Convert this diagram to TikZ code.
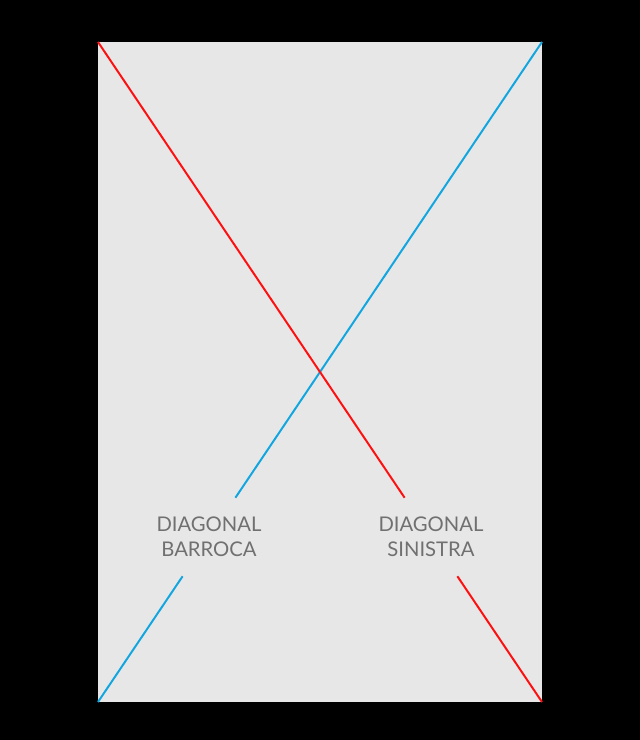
\documentclass[tikz,border=0pt]{standalone}
\usepackage{fontspec}
\setmainfont{Lato}
\usepackage{xcolor}
\usepackage{tikz}
\usetikzlibrary{calc,positioning}
\definecolor{pagegray}{HTML}{E7E7E7}
\definecolor{textgray}{HTML}{707070}
\definecolor{barrocablue}{HTML}{12A6E0}
\definecolor{sinistrared}{HTML}{FF1010}
\tikzset{
    diaglabel/.style={align=center, text=textgray, inner sep=0pt,
        minimum height=1.95cm, font=\fontsize{14.4}{17.6}\selectfont},
    diagline/.style={line width=1.4pt}
}

\begin{document}
\begin{tikzpicture}
    % Background and page
    \fill[black] (0,0) rectangle (16,18.5);
    \useasboundingbox (0,0) rectangle (16,18.5);
    \fill[pagegray] (2.45,0.95) rectangle (13.55,17.45);

    % Corners of the page
    \coordinate (bl) at (2.45,0.95);
    \coordinate (br) at (13.55,0.95);
    \coordinate (tl) at (2.45,17.45);
    \coordinate (tr) at (13.55,17.45);

    % Labels
    \node[diaglabel] (barroca) at ($(bl)!0.25!(tr)$) {DIAGONAL\\BARROCA};
    \node[diaglabel] (sinistra) at ($(tl)!0.75!(br)$) {DIAGONAL\\SINISTRA};

    % Diagonals
    \draw[diagline, barrocablue] (bl) -- (barroca);
    \draw[diagline, barrocablue] (barroca) -- (tr);
    \draw[diagline, sinistrared] (tl) -- (sinistra);
    \draw[diagline, sinistrared] (sinistra) -- (br);

\end{tikzpicture}
\end{document}
